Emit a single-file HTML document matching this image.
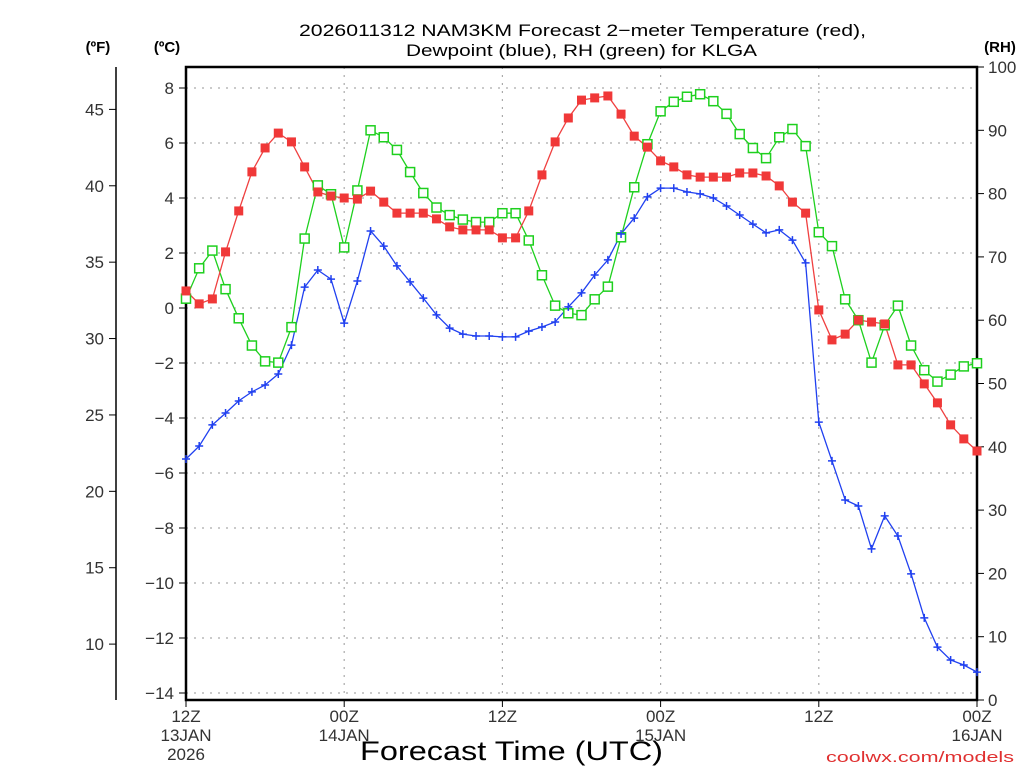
<!DOCTYPE html>
<html><head><meta charset="utf-8"><style>
html,body{margin:0;padding:0;background:#fff;}
svg{display:block;font-family:"Liberation Sans","DejaVu Sans",sans-serif;}
</style></head><body>
<svg id="chart" width="1024" height="768" viewBox="0 0 1024 768" xmlns="http://www.w3.org/2000/svg">
<rect width="1024" height="768" fill="#fff"/>
<text x="299" y="36" font-size="17" textLength="567" lengthAdjust="spacingAndGlyphs" fill="#000">2026011312 NAM3KM Forecast 2−meter Temperature (red),</text>
<text x="406" y="56" font-size="17" textLength="351" lengthAdjust="spacingAndGlyphs" fill="#000">Dewpoint (blue), RH (green) for KLGA</text>
<text x="98" y="52" font-size="15" font-weight="bold" text-anchor="middle">(ºF)</text>
<text x="167" y="52" font-size="15" font-weight="bold" text-anchor="middle">(ºC)</text>
<text x="1000" y="52" font-size="15" font-weight="bold" text-anchor="middle">(RH)</text>
<text x="360" y="760" font-size="27" textLength="303" lengthAdjust="spacingAndGlyphs" fill="#000">Forecast Time (UTC)</text>
<text x="826" y="762" font-size="15" textLength="188" lengthAdjust="spacingAndGlyphs" fill="#e03030">coolwx.com/models</text>
<g id="grid"></g><g id="axes"></g><g id="series"></g>
</svg>
<script>
const hours = [];
for (let h = 0; h <= 60; h++) hours.push(h);
const tempC = [0.62,0.15,0.33,2.04,3.53,4.95,5.82,6.36,6.04,5.13,4.22,4.07,4.0,3.96,4.25,3.85,3.45,3.45,3.45,3.24,2.95,2.84,2.84,2.84,2.55,2.55,3.53,4.84,6.04,6.91,7.56,7.64,7.71,7.05,6.25,5.85,5.35,5.13,4.84,4.76,4.76,4.76,4.91,4.91,4.8,4.44,3.85,3.45,-0.07,-1.16,-0.95,-0.44,-0.51,-0.58,-2.07,-2.07,-2.76,-3.45,-4.25,-4.76,-5.2];
const dewC = [-5.49,-5.02,-4.25,-3.82,-3.38,-3.05,-2.8,-2.4,-1.35,0.76,1.38,1.05,-0.55,0.98,2.8,2.25,1.53,0.95,0.36,-0.25,-0.73,-0.95,-1.02,-1.02,-1.05,-1.05,-0.84,-0.69,-0.51,0.04,0.55,1.2,1.75,2.69,3.27,4.04,4.36,4.36,4.22,4.15,4.0,3.71,3.38,3.05,2.73,2.84,2.47,1.64,-4.15,-5.56,-6.98,-7.2,-8.76,-7.56,-8.29,-9.67,-11.27,-12.33,-12.8,-12.98,-13.24];
const rh = [63.4,68.2,71.0,64.9,60.3,56.0,53.5,53.3,58.9,72.9,81.3,79.9,71.5,80.5,90.0,88.9,86.9,83.4,80.1,77.8,76.6,75.9,75.5,75.5,76.9,76.9,72.6,67.1,62.3,61.1,60.8,63.3,65.3,73.1,81.0,87.8,93.0,94.5,95.3,95.7,94.6,92.6,89.4,87.2,85.6,88.9,90.2,87.5,73.9,71.7,63.3,60.0,53.3,59.2,62.3,56.0,52.1,50.3,51.4,52.7,53.2];
const cTicks = [8,6,4,2,0,-2,-4,-6,-8,-10,-12,-14];
const fTicks = [45,40,35,30,25,20,15,10];
const rhTicks = [0,10,20,30,40,50,60,70,80,90,100];
const xTickHours = [0,12,24,36,48,60];
const xTickLabels = [["12Z","13JAN","2026"],["00Z","14JAN"],["12Z"],["00Z","15JAN"],["12Z"],["00Z","16JAN"]];

const L=186,R=977,T=67,B=700;
const xS = h => L + (h/60)*(R-L);
const yC = c => 88 + (8-c)*27.5;
const yF = f => yC((f-32)/1.8);
const yRH = v => B - v*(B-T)/100;
const NS="http://www.w3.org/2000/svg";
function mk(tag, attrs, parent){const e=document.createElementNS(NS,tag);for(const k in attrs)e.setAttribute(k,attrs[k]);parent.appendChild(e);return e;}
const grid=document.getElementById('grid'),axes=document.getElementById('axes'),ser=document.getElementById('series');

cTicks.forEach(c=>{
  const g=mk('line',{x1:L,x2:R,y1:yC(c),y2:yC(c),stroke:'#aaa','stroke-width':1.2,'stroke-dasharray':'2 6'},grid);
  
  
  const t=mk('line',{x1:L-7,x2:L,y1:yC(c),y2:yC(c),stroke:'#000','stroke-width':1},axes);
  
  
  const lb=mk('text',{x:L-12,y:yC(c)+6,'font-size':17,'text-anchor':'end',fill:'#333'},axes);
  lb.textContent=(c<0?'−'+Math.abs(c):String(c));
  
  
});
xTickHours.forEach((h,i)=>{
  if(h>0&&h<60){const g=mk('line',{x1:xS(h),x2:xS(h),y1:T,y2:B,stroke:'#aaa','stroke-width':1.2,'stroke-dasharray':'2 6'},grid);
  
  }
  const t=mk('line',{x1:xS(h),x2:xS(h),y1:B,y2:B+7,stroke:'#000','stroke-width':1},axes);
  
  
  xTickLabels[i].forEach((s,j)=>{
    const lb=mk('text',{x:xS(h),y:B+22+j*19,'font-size':17,'text-anchor':'middle',fill:'#333'},axes);
    lb.textContent=s;
    
    
  });
});
const fa=mk('line',{x1:116,x2:116,y1:T,y2:B,stroke:'#000','stroke-width':1.5},axes);


fTicks.forEach(f=>{
  const t=mk('line',{x1:109,x2:116,y1:yF(f),y2:yF(f),stroke:'#000','stroke-width':1},axes);
  
  
  const lb=mk('text',{x:104,y:yF(f)+6,'font-size':17,'text-anchor':'end',fill:'#333'},axes);
  lb.textContent=String(f);
  
  
});
rhTicks.forEach(v=>{
  const t=mk('line',{x1:R,x2:R+7,y1:yRH(v),y2:yRH(v),stroke:'#000','stroke-width':1},axes);
  
  
  const lb=mk('text',{x:R+11,y:yRH(v)+6,'font-size':17,'text-anchor':'start',fill:'#333'},axes);
  lb.textContent=String(v);
  
  
});
const box=mk('rect',{x:L,y:T,width:R-L,height:B-T,fill:'none',stroke:'#000','stroke-width':2.5},axes);



function drawLine(vals, yfn, color, name){
  const pts=vals.map((v,i)=>xS(hours[i]).toFixed(1)+','+yfn(v).toFixed(1)).join(' ');
  const pl=mk('polyline',{points:pts,fill:'none',stroke:color,'stroke-width':1.3},ser);
  
  
}
drawLine(rh,yRH,'#1ed01e','rh');
drawLine(tempC,yC,'#f04040','temperature');
drawLine(dewC,yC,'#2040f0','dewpoint');
rh.forEach((v,i)=>{
  const m=mk('rect',{x:xS(hours[i])-4.5,y:yRH(v)-4.5,width:9,height:9,fill:'#fff',stroke:'#1ed01e','stroke-width':1.5},ser);
  
  
});
tempC.forEach((v,i)=>{
  const m=mk('rect',{x:xS(hours[i])-4.5,y:yC(v)-4.5,width:9,height:9,fill:'#f03838'},ser);
  
  
});
dewC.forEach((v,i)=>{
  const x=xS(hours[i]),y=yC(v);
  const m=mk('path',{d:`M${x-4},${y}H${x+4}M${x},${y-4}V${y+4}`,stroke:'#2040f0','stroke-width':1.5,fill:'none'},ser);
  
  
});
</script>
</body></html>
